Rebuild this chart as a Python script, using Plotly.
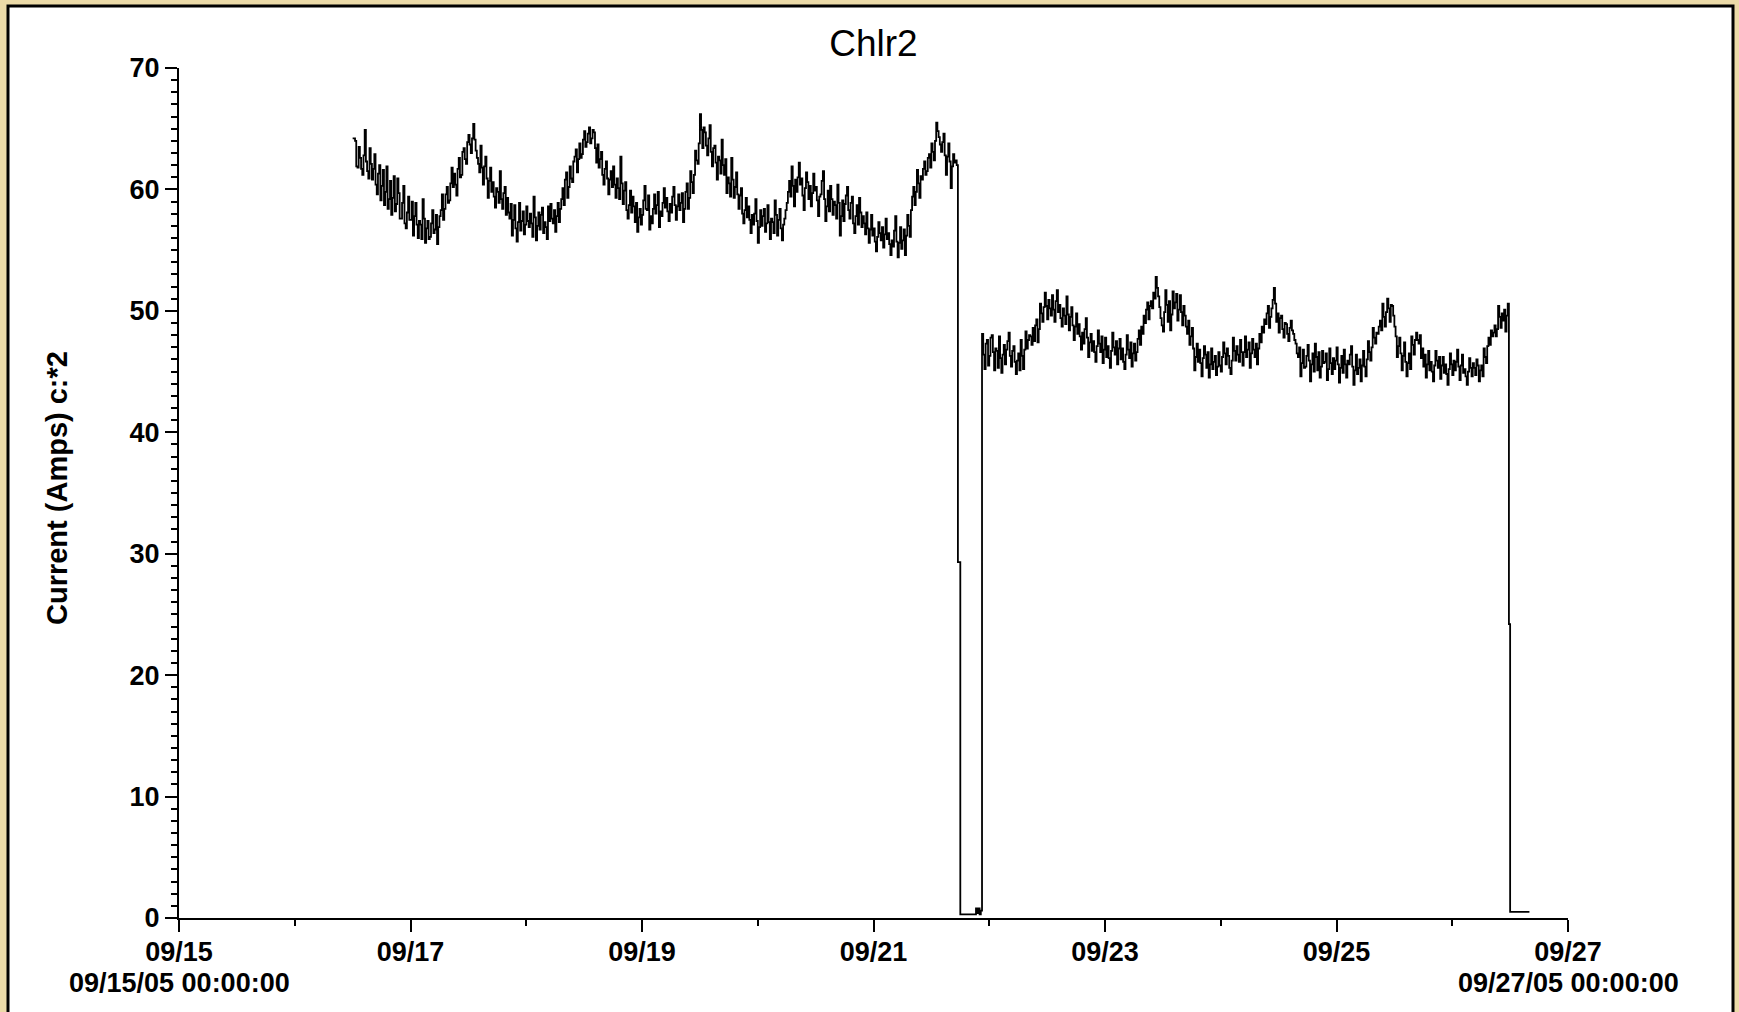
import pandas as pd
import plotly.graph_objects as go

# ---------------- data (15-minute samples) ----------------
start_time = "2005-09-16 12:00"

# 09/16 12:00 -> 09/21 17:15 (chiller running, first period)
seg1 = [
    64.2, 64.2, 64.0, 61.9, 61.8, 63.5, 62.6, 61.7, 61.2, 62.8, 64.9, 62.3, 61.5, 60.9, 63.4, 62.1, 60.8, 61.7, 62.9, 60.4, 59.6, 61.3, 62.0, 59.1,
    60.3, 61.6, 58.7, 59.8, 61.9, 58.4, 59.2, 60.7, 57.9, 59.3, 61.1, 58.2, 58.8, 60.9, 59.7, 57.6, 57.6, 58.9, 60.3, 57.2, 56.8, 58.1, 59.4, 57.5,
    57.5, 59.0, 56.2, 57.8, 58.9, 57.1, 56.0, 57.4, 57.1, 55.9, 59.2, 57.6, 55.6, 56.8, 57.4, 55.9, 56.1, 57.2, 58.3, 56.4, 56.7, 57.9, 55.5, 56.9,
    57.8, 58.3, 59.6, 57.5, 58.4, 59.6, 60.2, 58.9, 59.1, 60.5, 61.8, 60.2, 61.3, 60.4, 59.5, 61.7, 62.6, 61.0, 61.2, 63.1, 63.4, 62.5, 62.1, 63.9,
    64.5, 63.7, 63.0, 64.2, 65.4, 64.1, 63.2, 62.6, 62.1, 61.4, 63.6, 61.8, 60.4, 61.9, 62.7, 60.9, 59.3, 60.7, 61.8, 59.8, 60.6, 59.4, 58.5, 60.1,
    59.8, 58.9, 61.5, 59.2, 58.4, 59.7, 60.2, 57.9, 59.3, 58.1, 57.6, 58.8, 56.2, 57.5, 58.7, 56.8, 55.7, 57.3, 58.9, 56.6, 57.4, 58.2, 56.3, 57.1,
    58.6, 57.4, 56.9, 58.0, 57.2, 56.1, 59.4, 57.7, 55.8, 57.0, 58.1, 56.7, 57.9, 58.5, 56.4, 57.3, 56.9, 55.9, 58.6, 57.4, 58.8, 57.6, 57.2, 58.3,
    56.5, 57.8, 58.9, 57.3, 58.4, 59.2, 60.1, 58.7, 60.8, 61.4, 59.3, 60.2, 61.9, 60.9, 60.6, 62.3, 62.7, 63.3, 61.4, 62.5, 63.8, 62.6, 62.9, 64.1,
    64.8, 63.5, 63.9, 64.6, 65.1, 63.8, 64.2, 64.9, 64.7, 63.4, 62.2, 63.7, 61.8, 62.5, 63.1, 61.2, 60.4, 61.7, 62.3, 60.9, 59.6, 60.8, 61.5, 60.2,
    61.9, 60.4, 59.3, 60.9, 60.1, 59.2, 62.7, 60.5, 58.8, 59.9, 60.6, 58.3, 57.6, 58.7, 59.9, 58.1, 59.4, 58.6, 57.3, 58.9, 56.5, 57.7, 58.4, 57.1,
    57.9, 59.1, 60.3, 58.4, 58.3, 59.5, 56.7, 57.8, 57.2, 58.4, 59.6, 58.0, 58.7, 59.8, 56.9, 58.2, 57.8, 58.9, 60.1, 58.5, 59.3, 58.2, 57.4, 58.8,
    58.1, 59.4, 60.2, 58.7, 57.5, 58.6, 59.6, 58.3, 58.9, 59.7, 57.3, 58.4, 59.8, 60.5, 58.4, 59.3, 61.5, 60.6, 59.7, 61.2, 63.2, 62.4, 62.1, 63.8,
    66.2, 64.9, 63.4, 65.1, 64.7, 63.6, 62.8, 64.2, 65.3, 63.1, 61.9, 63.4, 63.6, 62.2, 60.8, 62.7, 62.4, 61.3, 64.1, 62.0, 61.2, 62.5, 59.7, 61.0,
    60.5, 59.4, 62.6, 60.8, 59.3, 60.2, 61.4, 59.6, 58.4, 59.5, 60.1, 58.0, 57.2, 58.3, 59.3, 57.7, 58.6, 57.5, 56.4, 57.9, 57.1, 58.0, 59.2, 57.4,
    55.6, 56.9, 58.3, 57.0, 57.8, 58.4, 56.5, 57.2, 58.7, 57.3, 55.9, 57.6, 57.3, 56.4, 59.1, 57.9, 56.2, 57.5, 58.4, 56.8, 55.8, 57.1, 57.6, 58.3,
    58.9, 59.8, 60.7, 59.4, 61.9, 60.3, 58.6, 60.8, 59.8, 61.0, 62.2, 60.4, 60.9, 59.5, 58.3, 60.1, 61.4, 60.6, 59.2, 60.3, 58.6, 59.7, 61.3, 59.9,
    60.2, 59.1, 57.8, 59.4, 59.6, 60.7, 61.5, 59.2, 57.4, 58.6, 59.9, 58.2, 60.3, 59.2, 57.9, 59.0, 58.7, 57.6, 60.4, 58.9, 56.2, 57.8, 59.1, 57.4,
    58.8, 59.5, 60.2, 58.3, 57.6, 58.9, 59.4, 57.2, 56.4, 57.8, 58.7, 57.1, 59.3, 58.1, 56.9, 57.8, 57.2, 56.3, 58.1, 56.8, 55.6, 56.7, 57.9, 56.2,
    56.8, 55.7, 54.9, 56.1, 57.3, 56.4, 55.8, 56.9, 55.2, 56.3, 57.6, 55.9, 56.4, 55.5, 54.6, 55.8, 55.3, 56.6, 57.8, 55.7, 54.4, 55.6, 56.9, 55.1,
    55.8, 56.7, 54.6, 56.2, 57.9, 57.0, 56.1, 58.3, 59.4, 60.2, 58.7, 59.8, 61.6, 60.5, 59.3, 61.1, 60.8, 61.7, 62.3, 61.2, 61.5, 62.6, 62.9, 61.8,
    63.8, 63.1, 62.4, 64.0, 65.5, 64.8, 64.3, 63.7, 63.1, 63.9, 64.6, 62.8, 61.2, 62.7, 63.8, 62.3, 60.1, 61.9, 62.9, 62.2, 62.4, 62.0,
]
# 09/21 17:30 - 17:45: partial interval while shutting down
drop1 = [29.3, 29.3]
# 09/21 18:00 -> 22:15: chiller off
off1 = [0.3, 0.3, 0.3, 0.3, 0.3, 0.3, 0.3, 0.3, 0.3, 0.3, 0.3, 0.3, 0.3, 0.8, 0.4, 0.8, 0.3, 0.6]
# 09/21 22:30 -> 09/26 11:30 (second running period)
seg2 = [
    48.1, 46.4, 45.2, 47.3, 47.6, 45.5, 46.3, 47.8, 48.0, 46.6, 45.1, 46.9, 46.7, 45.3, 47.9, 46.1, 44.9, 46.4, 47.2, 45.6, 46.8, 47.5, 48.2, 46.3,
    45.4, 46.7, 47.1, 45.8, 44.8, 45.9, 46.5, 45.1, 47.6, 46.3, 45.2, 46.8, 48.3, 46.9, 47.6, 48.0, 47.9, 47.2, 48.6, 47.5, 48.8, 49.3, 47.4, 48.5,
    50.6, 49.8, 49.1, 50.3, 51.5, 50.4, 49.3, 50.9, 50.2, 49.6, 51.3, 50.1, 49.1, 50.8, 51.7, 49.9, 50.5, 49.4, 48.7, 50.2, 49.6, 48.9, 51.2, 49.7,
    48.4, 49.5, 50.3, 48.8, 47.6, 48.7, 49.8, 48.1, 48.9, 47.9, 46.8, 48.2, 47.3, 48.5, 49.4, 47.8, 46.2, 47.4, 48.1, 46.7, 47.5, 46.6, 45.8, 47.1,
    48.4, 47.3, 46.6, 47.9, 45.7, 46.8, 47.8, 46.2, 47.1, 46.1, 45.3, 46.7, 48.2, 47.0, 46.4, 47.5, 45.6, 46.9, 47.7, 46.0, 46.9, 45.8, 45.2, 46.4,
    48.0, 46.8, 46.1, 47.4, 45.4, 46.5, 47.3, 45.9, 46.6, 47.7, 48.4, 47.2, 48.7, 48.1, 49.6, 49.0, 50.1, 50.7, 49.3, 50.4, 50.8, 50.2, 51.5, 51.0,
    52.8, 51.9, 51.2, 50.3, 49.4, 48.8, 48.3, 49.9, 51.7, 50.5, 49.1, 50.8, 48.4, 49.7, 51.6, 50.2, 50.7, 51.4, 49.2, 50.1, 51.3, 49.9, 48.8, 50.4,
    49.6, 48.7, 48.1, 49.2, 47.2, 47.9, 48.6, 46.9, 45.1, 46.2, 47.3, 45.8, 46.8, 45.7, 44.6, 46.1, 47.1, 46.4, 45.3, 46.6, 44.5, 45.6, 46.9, 45.2,
    45.8, 46.3, 44.7, 45.4, 46.6, 45.5, 45.0, 46.2, 47.4, 46.5, 45.6, 46.9, 46.3, 45.3, 44.8, 45.9, 47.8, 46.7, 45.9, 47.1, 46.4, 45.8, 47.6, 46.6,
    45.5, 46.6, 47.9, 46.2, 46.8, 47.4, 45.3, 46.5, 47.7, 46.8, 46.2, 47.3, 45.6, 46.9, 48.1, 47.4, 48.7, 48.2, 49.3, 48.9, 49.8, 50.4, 48.6, 49.5,
    50.2, 50.9, 51.9, 50.6, 49.1, 49.8, 48.2, 49.4, 49.6, 48.5, 47.8, 49.0, 48.9, 48.1, 47.5, 48.6, 49.2, 48.4, 48.1, 47.6, 47.3, 46.5, 46.2, 47.0,
    44.6, 45.7, 46.8, 45.3, 45.4, 46.3, 47.2, 45.9, 44.2, 45.6, 46.5, 45.0, 47.3, 46.2, 45.1, 46.6, 44.5, 45.4, 46.7, 45.7, 45.8, 46.5, 44.3, 45.2,
    46.9, 45.7, 44.8, 46.1, 45.2, 45.9, 47.0, 45.6, 44.1, 45.3, 46.3, 44.9, 46.8, 45.6, 44.5, 45.9, 45.6, 46.4, 47.1, 45.4, 43.9, 45.1, 46.4, 44.8,
    45.3, 46.0, 44.2, 45.5, 46.7, 45.4, 44.6, 46.0, 47.5, 46.6, 45.9, 47.0, 48.6, 47.8, 47.3, 48.2, 48.1, 48.7, 49.2, 48.4, 50.6, 49.5, 48.7, 49.9,
    51.0, 50.2, 49.1, 50.5, 50.4, 49.6, 48.7, 47.9, 46.2, 47.1, 47.8, 46.5, 45.1, 46.3, 47.4, 45.8, 44.6, 45.7, 46.5, 45.2, 47.9, 47.2, 46.4, 47.6,
    48.2, 47.6, 47.3, 48.0, 46.1, 46.9, 45.4, 46.4, 44.5, 45.6, 46.7, 45.1, 45.8, 45.0, 44.2, 45.5, 46.7, 45.9, 45.3, 46.2, 44.4, 45.5, 46.2, 44.9,
    45.6, 44.8, 43.9, 45.2, 46.5, 45.6, 44.7, 45.9, 45.1, 45.8, 46.8, 45.4, 44.3, 45.5, 46.4, 44.9, 45.2, 44.6, 43.9, 45.0, 46.1, 45.3, 44.6, 45.7,
    45.3, 44.7, 46.0, 45.5, 44.2, 45.1, 45.5, 44.6, 46.9, 46.2, 45.7, 47.1, 47.8, 47.2, 48.4, 47.9, 48.2, 48.8, 47.9, 48.5, 50.4, 49.5, 48.6, 49.8,
    49.2, 50.1, 48.3, 49.6, 50.6,
]
# 09/26 11:45: partial interval while shutting down
drop2 = [24.2]
# 09/26 12:00 -> 16:00: chiller off
off2 = [0.5, 0.5, 0.5, 0.5, 0.5, 0.5, 0.5, 0.5, 0.5, 0.5, 0.5, 0.5, 0.5, 0.5, 0.5, 0.5, 0.5]

values = seg1 + drop1 + off1 + seg2 + drop2 + off2

tick_dates = ["2005-09-15", "2005-09-17", "2005-09-19", "2005-09-21",
              "2005-09-23", "2005-09-25", "2005-09-27"]
tick_labels = ["09/15", "09/17", "09/19", "09/21", "09/23", "09/25", "09/27"]
end_stamps = [("2005-09-15", "09/15/05 00:00:00"), ("2005-09-27", "09/27/05 00:00:00")]
y_ticks = [0, 10, 20, 30, 40, 50, 60, 70]

title_text = "Chlr2"
y_title = "Current (Amps) c:*2"

# ---------------- figure ----------------
times = pd.date_range(start_time, periods=len(values), freq="15min")

W, H = 1739, 1012
L, R, T, B = 179, 171, 68, 94
PW, PH = W - L - R, H - T - B


def px_x(x):
    return (x - L) / PW


def px_y(y):
    return (H - B - y) / PH


FONT = "Liberation Sans, Arial, sans-serif"
TICKFONT = dict(size=27, family=FONT, weight="bold", color="#000000")

fig = go.Figure()
fig.add_trace(go.Scatter(
    x=times, y=values, mode="lines",
    line=dict(color="#000000", width=1.8, shape="hv"),
    hoverinfo="x+y", showlegend=False,
))

annotations = [dict(text="<b>" + y_title + "</b>", textangle=-90,
                    xref="paper", yref="paper", x=px_x(57), y=px_y(488),
                    xanchor="center", yanchor="middle", showarrow=False,
                    font=dict(size=29, family=FONT, color="#000000"))]
for d, s in end_stamps:
    annotations.append(dict(text="<b>" + s + "</b>", xref="x", yref="paper",
                            x=d, y=px_y(983), xanchor="center", yanchor="middle",
                            showarrow=False, font=TICKFONT))

fig.update_layout(
    width=W, height=H,
    margin=dict(l=L, r=R, t=T, b=B, pad=0),
    paper_bgcolor="#EBDAA8",
    plot_bgcolor="rgba(0,0,0,0)",
    font=dict(family=FONT, color="#000000"),
    showlegend=False,
    title=dict(text=title_text, x=0.5, xref="paper", xanchor="center",
               y=1 - 43 / H, yref="container", yanchor="middle",
               font=dict(size=37, family=FONT, color="#000000")),
    shapes=[dict(type="rect", xref="paper", yref="paper", layer="below",
                 x0=px_x(8), x1=px_x(1733), y0=px_y(1030), y1=px_y(6),
                 fillcolor="#FFFFFF", line=dict(color="#000000", width=3))],
    annotations=annotations,
)

fig.update_xaxes(
    type="date", range=["2005-09-15", "2005-09-27"],
    tickmode="array", tickvals=tick_dates, ticktext=tick_labels,
    ticks="outside", ticklen=12, tickwidth=2, tickcolor="#000000",
    tickfont=TICKFONT, ticklabelstandoff=-3,
    showline=True, linecolor="#000000", linewidth=2,
    showgrid=False, zeroline=False,
    minor=dict(tick0="2005-09-15", dtick=86400000, ticks="outside",
               ticklen=6, tickwidth=2, tickcolor="#000000", showgrid=False),
)
fig.update_yaxes(
    range=[0, 70], tickmode="array", tickvals=y_ticks,
    ticks="outside", ticklen=12, tickwidth=2, tickcolor="#000000",
    tickfont=TICKFONT,
    showline=True, linecolor="#000000", linewidth=2,
    showgrid=False, zeroline=False,
    minor=dict(tick0=0, dtick=1, ticks="outside", ticklen=6, tickwidth=2,
               tickcolor="#000000", showgrid=False),
)

fig.write_html("out.html", config={"displayModeBar": False},
               post_script="document.body.style.margin='0px';document.body.style.overflow='hidden';")
